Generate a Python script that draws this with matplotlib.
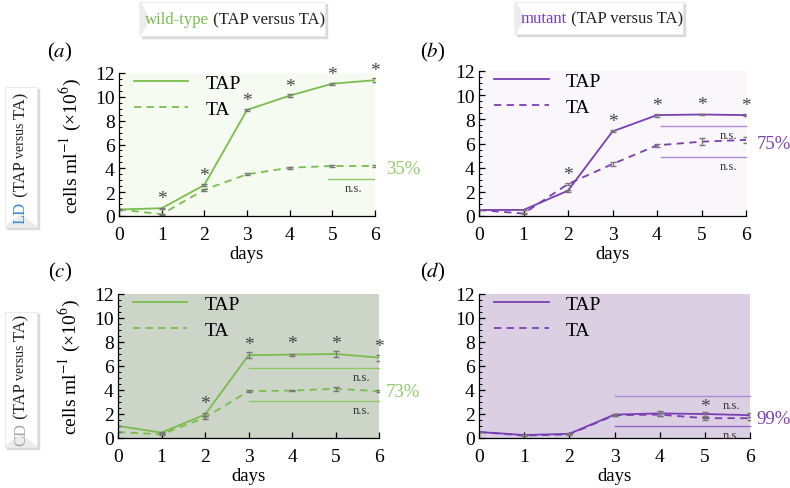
import numpy as np
import matplotlib
matplotlib.use("Agg")
import matplotlib.pyplot as plt
from matplotlib.patches import Rectangle, Polygon
from matplotlib.ticker import MultipleLocator

plt.rcParams['font.family'] = ['Liberation Serif', 'DejaVu Serif']
plt.rcParams['mathtext.fontset'] = 'stix'

days = [0, 1, 2, 3, 4, 5, 6]

# panel a: wild-type, LD
a_tap = [0.55, 0.65, 2.6, 8.9, 10.1, 11.1, 11.4]
a_ta = [0.55, 0.15, 2.2, 3.5, 4.05, 4.2, 4.2]
a_tap_err = [0.03, 0.05, 0.12, 0.12, 0.1, 0.1, 0.18]
a_ta_err = [0.03, 0.05, 0.08, 0.1, 0.08, 0.07, 0.07]
a_star_days = [1, 2, 3, 4, 5, 6]

# panel b: mutant, LD
b_tap = [0.5, 0.5, 2.1, 7.0, 8.35, 8.4, 8.35]
b_ta = [0.5, 0.2, 2.65, 4.3, 5.85, 6.15, 6.3]
b_tap_err = [0.03, 0.03, 0.08, 0.08, 0.12, 0.08, 0.08]
b_ta_err = [0.03, 0.03, 0.1, 0.15, 0.15, 0.3, 0.25]
b_star_tap = [3, 4, 5, 6]
b_star_ta = [2]

# panel c: wild-type, CD
c_tap = [1.0, 0.45, 1.95, 6.9, 6.95, 7.0, 6.7]
c_ta = [0.5, 0.3, 1.7, 3.9, 3.95, 4.1, 3.9]
c_tap_err = [0.03, 0.03, 0.1, 0.25, 0.08, 0.25, 0.25]
c_ta_err = [0.03, 0.03, 0.12, 0.08, 0.05, 0.15, 0.1]
c_star_days = [2, 3, 4, 5, 6]

# panel d: mutant, CD
d_tap = [0.5, 0.25, 0.35, 1.95, 2.05, 2.0, 1.9]
d_ta = [0.5, 0.2, 0.3, 1.9, 1.95, 1.65, 1.65]
d_tap_err = [0.03, 0.03, 0.03, 0.08, 0.2, 0.15, 0.15]
d_ta_err = [0.03, 0.03, 0.03, 0.08, 0.1, 0.12, 0.12]
d_star_days = [5]

green = '#79be4c'
green_light = '#8fca66'
purple = '#7a3fb3'
purple_light = '#b18ad6'

W, H = 790, 489
fig = plt.figure(figsize=(7.9, 4.89), dpi=100)


def px_axes(x0, y0, x1, y1):
    # pixel box (top-left origin) -> figure axes
    return fig.add_axes([x0 / W, 1 - y1 / H, (x1 - x0) / W, (y1 - y0) / H])


def style(ax, bg):
    ax.set_facecolor(bg)
    ax.set_xlim(0, 6)
    ax.set_ylim(0, 12)
    ax.set_xticks(days)
    ax.yaxis.set_major_locator(MultipleLocator(2))
    ax.yaxis.set_minor_locator(MultipleLocator(0.5))
    ax.tick_params(axis='both', direction='in', labelsize=14, length=4, width=0.9, pad=3)
    ax.tick_params(axis='x', pad=7)
    ax.tick_params(axis='y', which='minor', direction='in', length=2, width=0.7)
    for s in ['top', 'right']:
        ax.spines[s].set_visible(False)
    for s in ['left', 'bottom']:
        ax.spines[s].set_linewidth(0.9)
    ax.set_xlabel('days', fontsize=13.5, labelpad=2)


def draw(ax, tap, ta, tap_err, ta_err, color):
    ax.plot(days, tap, color=color, lw=1.3, label='TAP')
    ax.plot(days, ta, color=color, lw=1.3, ls=(0, (4, 3)), label='TA')
    ax.errorbar(days, tap, yerr=tap_err, fmt='none', ecolor='#777777', elinewidth=0.9, capsize=2)
    ax.errorbar(days, ta, yerr=ta_err, fmt='none', ecolor='#777777', elinewidth=0.9, capsize=2)
    ax.legend(loc='upper left', frameon=False, fontsize=14, handlelength=2.8,
              handletextpad=0.9, labelspacing=0.45, borderaxespad=0.1,
              bbox_to_anchor=(0.02, 1.06))


def stars(ax, xs, ys, off=0.8):
    for x in xs:
        ax.text(x, ys[x] + off, '*', ha='center', va='center', fontsize=14, color='#444444', clip_on=False)


def ns(ax, x0, y, color, lw=1.0):
    ax.plot([x0, 6], [y, y], color=color, lw=lw, clip_on=False)
    ax.text(5.6, y - 0.25, 'n.s.', ha='center', va='top', fontsize=9, color='#333333')


ax_a = px_axes(119, 74, 375, 217)
style(ax_a, '#f5fbf0')
draw(ax_a, a_tap, a_ta, a_tap_err, a_ta_err, green)
stars(ax_a, a_star_days, a_tap)
ax_a.plot([4.9, 6], [3.1, 3.1], color=green_light, lw=1.0)
ax_a.text(5.5, 2.85, 'n.s.', ha='center', va='top', fontsize=9, color='#333333')
ax_a.text(6.25, 4.0, '35%', color=green_light, fontsize=13.5, va='center', clip_on=False)

ax_b = px_axes(479, 72, 746, 217)
style(ax_b, '#f9f6fc')
draw(ax_b, b_tap, b_ta, b_tap_err, b_ta_err, purple)
stars(ax_b, b_star_tap, b_tap)
stars(ax_b, b_star_ta, b_ta)
ns(ax_b, 4.1, 7.45, purple_light)
ns(ax_b, 4.1, 4.85, purple_light)
ax_b.text(6.25, 6.0, '75%', color=purple, fontsize=13.5, va='center', clip_on=False)

ax_c = px_axes(118, 295, 379, 439)
style(ax_c, '#cdd4c8')
draw(ax_c, c_tap, c_ta, c_tap_err, c_ta_err, green)
stars(ax_c, c_star_days, c_tap, off=0.9)
ns(ax_c, 3, 5.85, green_light)
ns(ax_c, 3, 3.1, green_light)
ax_c.text(6.15, 3.9, '73%', color=green_light, fontsize=13.5, va='center', clip_on=False)

ax_d = px_axes(479, 295, 750, 439)
style(ax_d, '#dacfe3')
draw(ax_d, d_tap, d_ta, d_tap_err, d_ta_err, purple)
stars(ax_d, d_star_days, d_tap, off=0.6)
ns(ax_d, 3, 3.5, purple_light)
ns(ax_d, 3, 1.0, '#9560c8')
ax_d.text(6.15, 1.6, '99%', color=purple, fontsize=13.5, va='center', clip_on=False)

for ax in (ax_a, ax_c):
    ax.set_ylabel('cells ml$^{-1}$ (×10$^{6}$)', fontsize=14, labelpad=9)

# panel letters
for lab, (x, y) in zip(['a', 'b', 'c', 'd'], [(60, 52), (433, 52), (60, 272), (433, 272)]):
    fig.text(x / W, 1 - y / H, '($%s$)' % lab, fontsize=15, ha='center', va='center')


# header boxes with shadow
def header(x0, y0, x1, y1, word, color):
    fig.patches.append(Rectangle((x0 / W + 0.002, 1 - y1 / H - 0.005), (x1 - x0) / W, (y1 - y0) / H,
                                 transform=fig.transFigure, color='#dadada', zorder=0))
    fig.patches.append(Rectangle((x0 / W, 1 - y1 / H), (x1 - x0) / W, (y1 - y0) / H,
                                 transform=fig.transFigure, facecolor='white', edgecolor='#e8e8e8', lw=0.6, zorder=1))
    fig.patches.append(Polygon([(x0 / W, 1 - y0 / H), (x0 / W + 0.012, 1 - (y0 + y1) / 2 / H), (x0 / W, 1 - y1 / H)],
                               closed=True, transform=fig.transFigure, color='#ececec', zorder=2))
    xc = (x0 + x1) / 2
    t1 = fig.text(0, 0, word, color=color, fontsize=12, va='center')
    t2 = fig.text(0, 0, ' (TAP versus TA)', color='#222222', fontsize=12, va='center')
    r = fig.canvas.get_renderer()
    w1 = t1.get_window_extent(r).width
    w2 = t2.get_window_extent(r).width
    start = xc - (w1 + w2) / 2 + 3
    yc = 1 - (y0 + y1) / 2 / H
    t1.set_position((start / W, yc))
    t2.set_position(((start + w1) / W, yc))


header(140, 3, 325, 37, 'wild-type', green)
header(515, 3, 683, 35, 'mutant', purple)


# row boxes, rotated text
def rowbox(x0, y0, x1, y1, word, color):
    fig.patches.append(Rectangle((x0 / W + 0.003, 1 - y1 / H - 0.004), (x1 - x0) / W, (y1 - y0) / H,
                                 transform=fig.transFigure, color='#dadada', zorder=0))
    fig.patches.append(Rectangle((x0 / W, 1 - y1 / H), (x1 - x0) / W, (y1 - y0) / H,
                                 transform=fig.transFigure, facecolor='white', edgecolor='#e8e8e8', lw=0.6, zorder=1))
    fig.patches.append(Polygon([(x0 / W, 1 - y1 / H), ((x0 + x1) / 2 / W, 1 - (y1 - 12) / H), (x1 / W, 1 - y1 / H)],
                               closed=True, transform=fig.transFigure, color='#ececec', zorder=2))
    r = fig.canvas.get_renderer()
    parts = [(word, color, 12), (' (TAP ', '#222222', 12), ('versus', '#222222', 10), (' TA)', '#222222', 12)]
    texts = [fig.text(0, 0, p, color=c, fontsize=s, rotation=90, ha='center', va='bottom') for p, c, s in parts]
    hs = [t.get_window_extent(r).height for t in texts]
    xc = (x0 + x1) / 2
    yb = (y0 + y1) / 2 + sum(hs) / 2
    for t, h in zip(texts, hs):
        t.set_position((xc / W, 1 - yb / H))
        yb -= h


rowbox(5, 88, 37, 228, 'LD', '#3d8bd0')
rowbox(5, 313, 37, 448, 'CD', '#a8a8a8')

fig.savefig('out.png', dpi=100)
